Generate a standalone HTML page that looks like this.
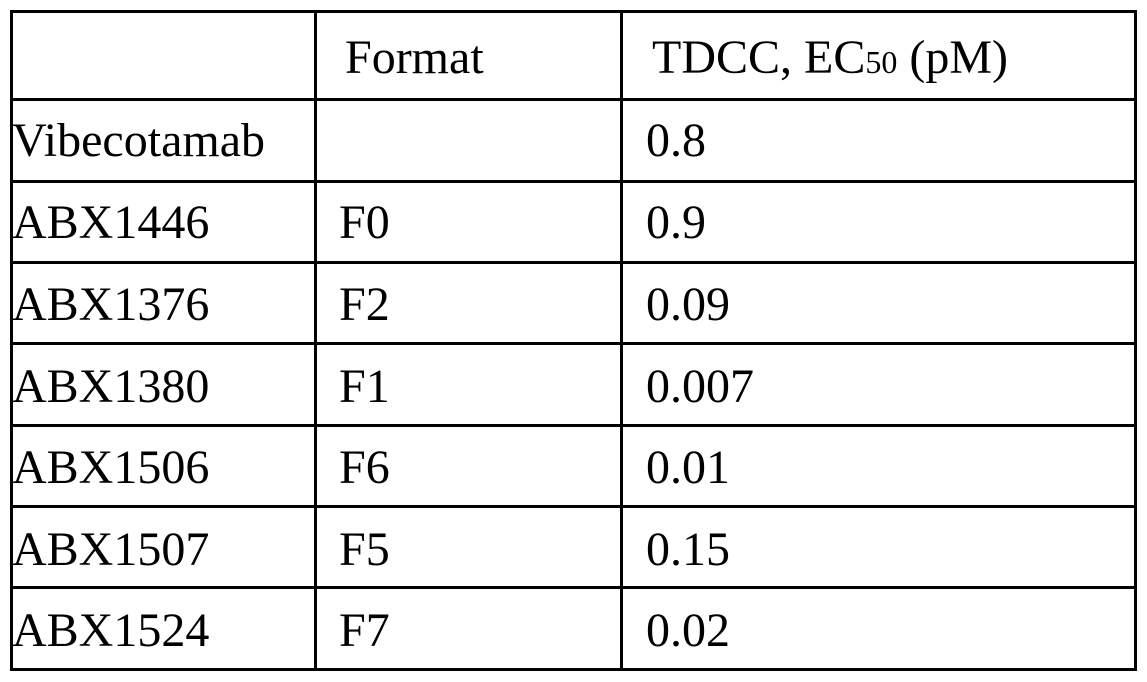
<!DOCTYPE html>
<html>
<head>
<meta charset="utf-8">
<style>
  html, body { margin: 0; padding: 0; background: #fff; }
  body { width: 1147px; height: 682px; overflow: hidden; }
  svg { display: block; }
  text { font-family: "Liberation Serif", "Times New Roman", serif; font-size: 48px; fill: #000; }
</style>
</head>
<body>
<svg width="1147" height="682" viewBox="0 0 1147 682" xmlns="http://www.w3.org/2000/svg">
  <rect x="0" y="0" width="1147" height="682" fill="#fff"/>
  <!-- vertical lines -->
  <rect x="10" y="10" width="3" height="661" fill="#000"/>
  <rect x="314" y="10" width="3" height="661" fill="#000"/>
  <rect x="620" y="10" width="3" height="661" fill="#000"/>
  <rect x="1134" y="10" width="3" height="661" fill="#000"/>
  <!-- horizontal lines -->
  <rect x="10" y="10" width="1127" height="3" fill="#000"/>
  <rect x="10" y="98" width="1127" height="3" fill="#000"/>
  <rect x="10" y="180" width="1127" height="3" fill="#000"/>
  <rect x="10" y="261" width="1127" height="3" fill="#000"/>
  <rect x="10" y="342" width="1127" height="3" fill="#000"/>
  <rect x="10" y="424" width="1127" height="3" fill="#000"/>
  <rect x="10" y="505" width="1127" height="3" fill="#000"/>
  <rect x="10" y="586" width="1127" height="3" fill="#000"/>
  <rect x="10" y="668" width="1127" height="3" fill="#000"/>

  <!-- header -->
  <text x="345" y="73">Format</text>
  <text x="652" y="73">TDCC, EC<tspan font-size="32">50</tspan> (pM)</text>

  <!-- rows -->
  <text x="12" y="156">Vibecotamab</text>
  <text x="646" y="156">0.8</text>

  <text x="12" y="238">ABX1446</text>
  <text x="339" y="238">F0</text>
  <text x="646" y="238">0.9</text>

  <text x="12" y="320">ABX1376</text>
  <text x="339" y="320">F2</text>
  <text x="646" y="320">0.09</text>

  <text x="12" y="402">ABX1380</text>
  <text x="339" y="402">F1</text>
  <text x="646" y="402">0.007</text>

  <text x="12" y="483">ABX1506</text>
  <text x="339" y="483">F6</text>
  <text x="646" y="483">0.01</text>

  <text x="12" y="565">ABX1507</text>
  <text x="339" y="565">F5</text>
  <text x="646" y="565">0.15</text>

  <text x="12" y="646">ABX1524</text>
  <text x="339" y="646">F7</text>
  <text x="646" y="646">0.02</text>
</svg>
</body>
</html>
